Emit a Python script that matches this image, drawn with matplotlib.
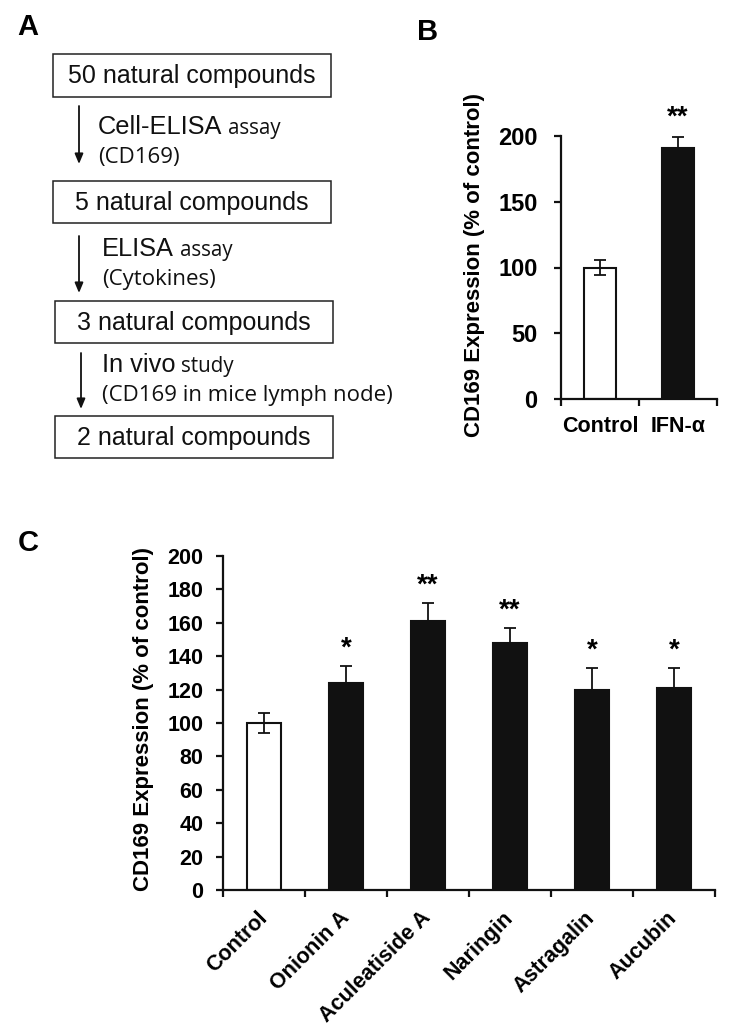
import matplotlib
matplotlib.use("Agg")
import matplotlib.pyplot as plt
from matplotlib.patches import Rectangle
import numpy as np

# ---------------- data ----------------
flow_boxes = ["50 natural compounds", "5 natural compounds",
              "3 natural compounds", "2 natural compounds"]
flow_steps_main = ["Cell-ELISA", "ELISA", "In vivo"]
flow_steps_small = ["assay", "assay", "study"]
flow_steps_sub = ["(CD169)", "(Cytokines)", "(CD169 in mice lymph node)"]

b_categories = ["Control", "IFN-\u03b1"]
b_values = [100, 191]
b_errors = [6, 8]
b_colors = ["white", "#111111"]
b_stars = ["", "**"]

c_categories = ["Control", "Onionin A", "Aculeatiside A", "Naringin",
                "Astragalin", "Aucubin"]
c_values = [100, 124, 161, 148, 120, 121]
c_errors = [6, 10, 11, 9, 13, 12]
c_colors = ["white", "#111111", "#111111", "#111111", "#111111", "#111111"]
c_stars = ["", "*", "**", "**", "*", "*"]

ylabel = "CD169 Expression (% of control)"

W, H = 736, 1033
fig = plt.figure(figsize=(W / 100, H / 100), dpi=100)
BOLD = dict(family="Liberation Sans", weight="bold")


def fx(px):
    return px / W


def fy(py):
    return 1 - py / H


# ---------------- panel A (flow chart) ----------------
axA = fig.add_axes([0, 0, 1, 1])
axA.set_xlim(0, W)
axA.set_ylim(H, 0)
axA.axis("off")
axA.patch.set_alpha(0)

box_x = [(53, 331), (53, 331), (55, 333), (55, 333)]
box_y = [(54, 97), (181, 223), (301, 343), (416, 458)]
for (x0, x1), (y0, y1), txt in zip(box_x, box_y, flow_boxes):
    axA.add_patch(Rectangle((x0, y0), x1 - x0, y1 - y0, fill=False,
                            lw=1.1, edgecolor="#222222"))
    axA.text((x0 + x1) / 2, (y0 + y1) / 2 + 1, txt, ha="center", va="center",
             fontsize=18, family="Liberation Sans", color="#111111")

arrow_x = [79, 79, 81]
arrow_y = [(106, 164), (236, 293), (353, 409)]
base_y = [134, 256, 372]
sub_y = [157, 279, 395]
text_x = [98, 102, 102]
main_texts = []
for ax_x, (a0, a1), by, sy, tx, m, sub in zip(arrow_x, arrow_y, base_y, sub_y, text_x,
                                              flow_steps_main, flow_steps_sub):
    axA.annotate("", xy=(ax_x, a1), xytext=(ax_x, a0),
                 arrowprops=dict(arrowstyle="-|>,head_length=0.6,head_width=0.25",
                                 lw=1.3, color="#111111", shrinkA=0, shrinkB=0))
    t = axA.text(tx, by, m, ha="left", va="baseline", fontsize=18.3,
                 family="Liberation Sans", color="#111111")
    main_texts.append(t)
    axA.text(tx, sy, sub, ha="left", va="center", fontsize=16,
             family="Open Sans", color="#111111")

fig.canvas.draw()
renderer = fig.canvas.get_renderer()
for t, by, s in zip(main_texts, base_y, flow_steps_small):
    ext = t.get_window_extent(renderer)
    x_end = axA.transData.inverted().transform((ext.x1, ext.y0))[0]
    axA.text(x_end + 6, by, s, ha="left", va="baseline", fontsize=14.8,
             family="Open Sans", color="#111111")

fig.text(fx(17), fy(27), "A", fontsize=21, va="center", ha="left", **BOLD)
fig.text(fx(417), fy(32), "B", fontsize=21, va="center", ha="left", **BOLD)
fig.text(fx(18), fy(543), "C", fontsize=21, va="center", ha="left", **BOLD)


def style_bar_axes(ax, n, tick_fs, xpad, ypad):
    ax.set_xlim(-0.5, n - 0.5)
    for sp in ["top", "right"]:
        ax.spines[sp].set_visible(False)
    for sp in ["left", "bottom"]:
        ax.spines[sp].set_linewidth(1.6)
        ax.spines[sp].set_color("#111111")
    ax.set_xticks(list(np.arange(n + 1) - 0.5), minor=True)
    ax.tick_params(axis="x", which="minor", length=5, width=1.6, direction="out",
                   color="#111111")
    ax.tick_params(axis="x", which="major", length=0, pad=xpad)
    ax.tick_params(axis="y", which="major", length=5, width=1.6, direction="out",
                   color="#111111", labelsize=tick_fs, pad=ypad)
    for lab in ax.get_yticklabels():
        lab.set_fontweight("bold")
        lab.set_family("Liberation Sans")


# ---------------- panel B ----------------
axB = fig.add_axes([fx(561), fy(399), fx(717) - fx(561), fy(136) - fy(399)])
xb = np.arange(len(b_categories))
axB.bar(xb, b_values, width=0.41, color=b_colors, edgecolor="#111111",
        linewidth=1.5, zorder=2)
axB.errorbar(xb, b_values, yerr=b_errors, fmt="none", ecolor="#111111",
             elinewidth=1.3, capsize=4, capthick=1.3, zorder=3)
axB.set_ylim(0, 200)
axB.set_yticks([0, 50, 100, 150, 200])
axB.set_xticks(xb)
axB.set_xticklabels(b_categories, fontsize=15.5, **BOLD)
style_bar_axes(axB, len(b_categories), 17, 12, 12)
for xi, v, e, s in zip(xb, b_values, b_errors, b_stars):
    if s:
        axB.annotate(s, xy=(xi, v + e), xytext=(0, 5), textcoords="offset points",
                     ha="center", va="bottom", fontsize=20, clip_on=False, **BOLD)
fig.text(fx(475), fy(265), ylabel, rotation=90, ha="center", va="center",
         fontsize=16, **BOLD)

# ---------------- panel C ----------------
axC = fig.add_axes([fx(223), fy(890), fx(715) - fx(223), fy(556) - fy(890)])
xc = np.arange(len(c_categories))
axC.bar(xc, c_values, width=0.41, color=c_colors, edgecolor="#111111",
        linewidth=1.5, zorder=2)
axC.errorbar(xc, c_values, yerr=c_errors, fmt="none", ecolor="#111111",
             elinewidth=1.3, capsize=4, capthick=1.3, zorder=3)
axC.set_ylim(0, 200)
axC.set_yticks(np.arange(0, 201, 20))
axC.set_xticks(xc)
axC.set_xticklabels(c_categories, fontsize=15.5, rotation=45, ha="right",
                    va="center", rotation_mode="anchor", **BOLD)
style_bar_axes(axC, len(c_categories), 15.5, 18, 9)
for xi, v, e, s in zip(xc, c_values, c_errors, c_stars):
    if s:
        axC.annotate(s, xy=(xi, v + e), xytext=(0, 3), textcoords="offset points",
                     ha="center", va="bottom", fontsize=20, clip_on=False, **BOLD)
fig.text(fx(143), fy(719), ylabel, rotation=90, ha="center", va="center",
         fontsize=16, **BOLD)

fig.savefig("out.png", dpi=100)
